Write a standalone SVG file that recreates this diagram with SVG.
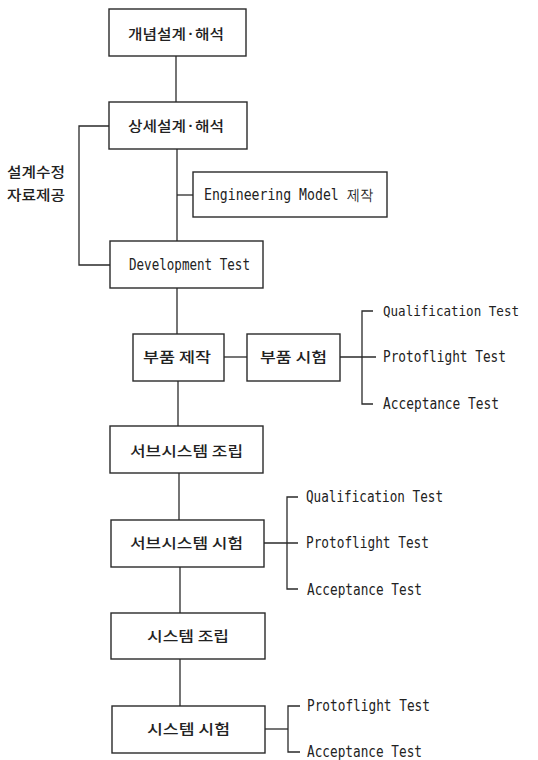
<svg xmlns="http://www.w3.org/2000/svg" width="538" height="760" viewBox="0 0 538 760">
<style>
.box{fill:none;stroke:#2a2a2a;stroke-width:1.4}
.ln{fill:none;stroke:#2a2a2a;stroke-width:1.3}
.ko{font-family:"Noto Sans CJK KR","Noto Sans",sans-serif;font-size:14px;font-weight:500;fill:#222}
.en{font-family:"DejaVu Sans Mono","Liberation Mono",monospace;font-size:15px;fill:#222}
.en.sm{font-size:14px}
</style>
<rect width="538" height="760" fill="#fff"/>
<g id="connectors">
<path class="ln" d="M176,56V102"/>
<path class="ln" d="M109,126H79V265H110"/>
<path class="ln" d="M177,149V241"/>
<path class="ln" d="M177,195H193"/>
<path class="ln" d="M177,288V334"/>
<path class="ln" d="M224,357H247"/>
<path class="ln" d="M340,357H376"/>
<path class="ln" d="M373,311H362V404H373"/>
<path class="ln" d="M178,381V426"/>
<path class="ln" d="M179,473V520"/>
<path class="ln" d="M264,543H298"/>
<path class="ln" d="M298,497H287V589H298"/>
<path class="ln" d="M180,567V613"/>
<path class="ln" d="M180,659V706"/>
<path class="ln" d="M265,729H288"/>
<path class="ln" d="M300,706H288V752H300"/>
</g>
<g id="n1"><rect class="box" x="109" y="9" width="137" height="47"/><text class="ko" x="128" y="39" textLength="96" lengthAdjust="spacingAndGlyphs">개념설계·해석</text></g>
<g id="n2"><rect class="box" x="109" y="102" width="138" height="47"/><text class="ko" x="128" y="131" textLength="96" lengthAdjust="spacingAndGlyphs">상세설계·해석</text></g>
<g id="label"><text class="ko" x="7" y="177" textLength="58" lengthAdjust="spacingAndGlyphs">설계수정</text><text class="ko" x="7" y="200" textLength="58" lengthAdjust="spacingAndGlyphs">자료제공</text></g>
<g id="n3"><rect class="box" x="193" y="172" width="194" height="45"/><text class="en" x="204" y="200" textLength="169" lengthAdjust="spacingAndGlyphs">Engineering Model 제작</text></g>
<g id="n4"><rect class="box" x="110" y="241" width="153" height="47"/><text class="en" x="129" y="270" textLength="121" lengthAdjust="spacingAndGlyphs">Development Test</text></g>
<g id="n5"><rect class="box" x="133" y="334" width="91" height="47"/><text class="ko" x="143" y="362" textLength="68" lengthAdjust="spacingAndGlyphs">부품 제작</text></g>
<g id="n6"><rect class="box" x="247" y="334" width="93" height="47"/><text class="ko" x="260" y="362" textLength="67" lengthAdjust="spacingAndGlyphs">부품 시험</text></g>
<g id="t1"><text class="en sm" x="383" y="316" textLength="136" lengthAdjust="spacingAndGlyphs">Qualification Test</text><text class="en" x="383" y="362" textLength="123" lengthAdjust="spacingAndGlyphs">Protoflight Test</text><text class="en" x="383" y="409" textLength="116" lengthAdjust="spacingAndGlyphs">Acceptance Test</text></g>
<g id="n7"><rect class="box" x="110" y="426" width="153" height="47"/><text class="ko" x="130" y="456" textLength="113" lengthAdjust="spacingAndGlyphs">서브시스템 조립</text></g>
<g id="n8"><rect class="box" x="111" y="520" width="153" height="47"/><text class="ko" x="130" y="548" textLength="113" lengthAdjust="spacingAndGlyphs">서브시스템 시험</text></g>
<g id="t2"><text class="en" x="306" y="502" textLength="137" lengthAdjust="spacingAndGlyphs">Qualification Test</text><text class="en" x="306" y="548" textLength="123" lengthAdjust="spacingAndGlyphs">Protoflight Test</text><text class="en" x="307" y="595" textLength="115" lengthAdjust="spacingAndGlyphs">Acceptance Test</text></g>
<g id="n9"><rect class="box" x="111" y="613" width="154" height="46"/><text class="ko" x="147" y="641" textLength="82" lengthAdjust="spacingAndGlyphs">시스템 조립</text></g>
<g id="n10"><rect class="box" x="112" y="706" width="153" height="47"/><text class="ko" x="147" y="734" textLength="83" lengthAdjust="spacingAndGlyphs">시스템 시험</text></g>
<g id="t3"><text class="en" x="307" y="711" textLength="123" lengthAdjust="spacingAndGlyphs">Protoflight Test</text><text class="en" x="307" y="757" textLength="115" lengthAdjust="spacingAndGlyphs">Acceptance Test</text></g>
</svg>
